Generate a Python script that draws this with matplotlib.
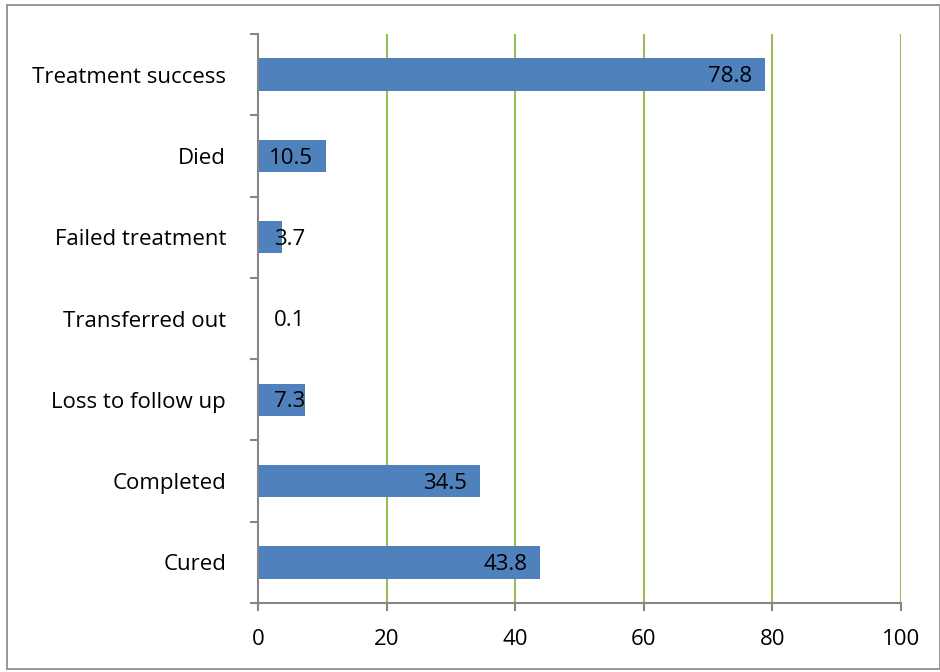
import numpy as np
import matplotlib.pyplot as plt
from matplotlib.patches import Rectangle

# DATA
###################################
categories = ["Cured", "Completed", "Loss to follow up", "Transferred out",
              "Failed treatment", "Died", "Treatment success"]
values = [43.8, 34.5, 7.3, 0.1, 3.7, 10.5, 78.8]
xticks = [0, 20, 40, 60, 80, 100]

BAR_COLOR = "#4f81bd"
GRID_COLOR = "#9bbb59"
AXIS_COLOR = "#868686"
FSIZE = 16

plt.rcParams["font.family"] = ["Open Sans", "DejaVu Sans"]

fig = plt.figure(figsize=(9.4, 6.72), dpi=100)
fig.patches.append(Rectangle((7 / 940, 3 / 672), 933 / 940, 664 / 672,
                             transform=fig.transFigure, fill=False,
                             edgecolor=AXIS_COLOR, linewidth=1.2))
ax = fig.add_axes([258 / 940, 1 - 603 / 672, 643 / 940, 569 / 672])

y = np.arange(len(categories))
ax.barh(y, values, height=0.4, color=BAR_COLOR, zorder=3)

# data labels, inside end of each bar (small bars keep the label readable)
for yi, v in zip(y, values):
    ax.annotate(f"{v}", xy=(max(v, 9.3), yi), xytext=(-9, -1.5),
                textcoords="offset points", ha="right", va="center",
                fontsize=FSIZE, color="black", zorder=4)

ax.set_xlim(0, 100)
ax.set_ylim(-0.5, len(categories) - 0.5)
ax.set_xticks(xticks)
ax.set_yticks(y)
ax.set_yticklabels(categories)
ax.set_yticks(np.arange(-0.5, len(categories)), minor=True)

for xv in xticks[1:]:
    ax.axvline(xv, color=GRID_COLOR, linewidth=1.5, zorder=1)

for s in ["top", "right"]:
    ax.spines[s].set_visible(False)
for s in ["left", "bottom"]:
    ax.spines[s].set_color(AXIS_COLOR)
    ax.spines[s].set_linewidth(1.5)
    ax.spines[s].set_zorder(5)

ax.tick_params(axis="y", which="major", length=0, pad=23, labelsize=FSIZE)
ax.tick_params(axis="y", which="minor", length=6, width=1.5,
               color=AXIS_COLOR, direction="out")
ax.tick_params(axis="x", length=6, width=1.5, color=AXIS_COLOR,
               direction="out", pad=13, labelsize=FSIZE)

fig.savefig("out.png", dpi=100)
